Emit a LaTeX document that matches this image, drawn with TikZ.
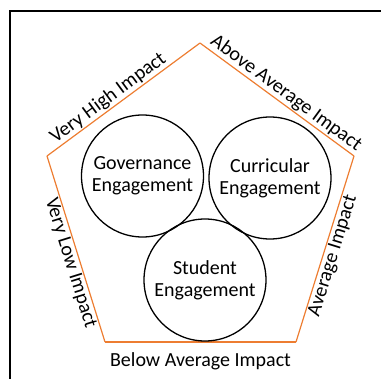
\documentclass[tikz,border=0pt]{standalone}
\usepackage{fontspec}
\setmainfont{Carlito}
\definecolor{pent}{RGB}{237,125,49}
\begin{document}
\begin{tikzpicture}[x=1pt,y=-1pt,
  circ/.style={draw=black,line width=1.3pt,circle,minimum size=122pt,inner sep=0pt,align=center,font=\fontsize{20}{22}\selectfont},
  lab/.style={font=\fontsize{20}{22}\selectfont,inner sep=1pt},
  edge/.style={draw=pent,line width=1.2pt}]
\useasboundingbox (0,0) rectangle (381,379);
\draw[line width=2pt] (9.5,400) -- (9.5,11) -- (400,11);
\coordinate (T) at (200,43);
\coordinate (UL) at (47,156);
\coordinate (UR) at (354,156);
\coordinate (BL) at (105,342);
\coordinate (BR) at (296,342);
\draw[edge] (UL) -- node[lab,sloped,above,pos=0.44] {Very High Impact} (T);
\draw[edge] (T) -- node[lab,sloped,above,pos=0.52] {Above Average Impact} (UR);
\draw[edge] (UR) -- node[lab,sloped,below,pos=0.52] {Average Impact} (BR);
\draw[edge] (BR) -- node[lab,below,pos=0.5,yshift=-9pt] {Below Average Impact} (BL);
\draw[edge] (BL) -- node[lab,sloped,below,pos=0.44] {Very Low Impact} (UL);
\node[circ] (gov) at (142.5,176) {Governance\\Engagement};
\node[circ] (cur) at (270,178) {Curricular\\Engagement};
\node[circ] (stu) at (205,280) {Student\\Engagement};
\end{tikzpicture}
\end{document}
